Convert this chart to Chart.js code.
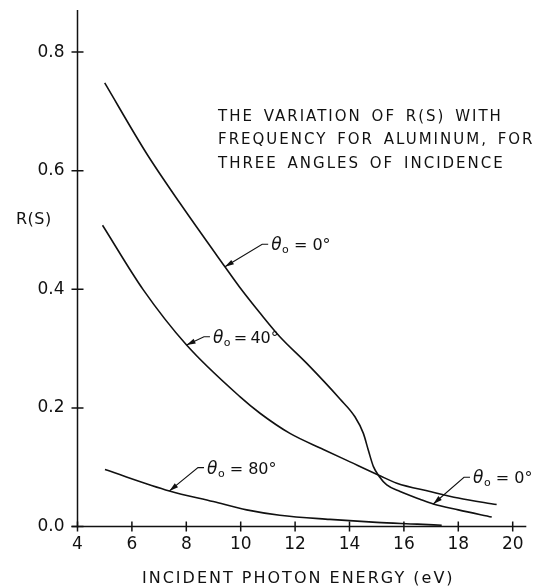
<!DOCTYPE html>
<html><head><meta charset="utf-8">
<script src="https://cdn.jsdelivr.net/npm/chart.js@4"></script>
<style>html,body{margin:0;padding:0;background:#fff}canvas{display:block}</style>
</head><body>
<canvas id="c" width="539" height="587"></canvas>
<script>
// ---- data ----
const energy0 = [5.0, 6.54, 7.77, 9.42, 9.97, 10.71, 11.44, 12.43, 13.65, 14.2, 14.51, 14.69, 14.88, 15.1, 15.37, 15.86, 16.59, 17.08, 18.0, 19.23];
const refl0   = [0.748, 0.629, 0.545, 0.438, 0.403, 0.360, 0.320, 0.275, 0.215, 0.185, 0.157, 0.129, 0.101, 0.084, 0.070, 0.059, 0.046, 0.038, 0.028, 0.016];
const energy40 = [4.92, 6.42, 8.01, 9.97, 10.71, 11.81, 13.04, 14.02, 15.1, 15.74, 16.96, 18.0, 19.41];
const refl40   = [0.508, 0.399, 0.306, 0.219, 0.191, 0.157, 0.130, 0.109, 0.086, 0.073, 0.059, 0.048, 0.037];
const energy80 = [5.01, 7.38, 8.99, 10.22, 11.44, 13.28, 15.0, 16.5, 17.39];
const refl80   = [0.096, 0.060, 0.042, 0.028, 0.019, 0.012, 0.007, 0.004, 0.002];
const xTicks = [4, 6, 8, 10, 12, 14, 16, 18, 20];
const xTickLabels = ['4', '6', '8', '10', '12', '14', '16', '18', '20'];
const yTicks = [0, 0.2, 0.4, 0.6, 0.8];
const yTickLabels = ['0.0', '0.2', '0.4', '0.6', '0.8'];
const titleLines = ['THE VARIATION OF R(S) WITH', 'FREQUENCY FOR ALUMINUM, FOR', 'THREE ANGLES OF INCIDENCE'];
const xTitle = 'INCIDENT PHOTON ENERGY (eV)';
const yTitle = 'R(S)';
const curveLabels = [
  { rest: ' = 0°', tip: [9.42, 0.438], anchor: [11.01, 0.476] },
  { rest: '\u2009=\u200940°', tip: [8.01, 0.306], anchor: [8.87, 0.320] },
  { rest: ' = 80°', tip: [7.38, 0.060], anchor: [8.65, 0.0992] },
  { rest: ' = 0°', tip: [17.08, 0.038], anchor: [18.43, 0.083] }
];

const INK = '#111';
const FONT = 'DejaVu Sans';

function pts(xs, ys) { return xs.map((x, i) => ({ x: x, y: ys[i] })); }
function ds(xs, ys) {
  return { data: pts(xs, ys), borderColor: INK, borderWidth: 1.6, pointRadius: 0,
           fill: false, cubicInterpolationMode: 'monotone' };
}
function zeroPad(s) { s.paddingTop = 0; s.paddingBottom = 0; s.paddingLeft = 0; s.paddingRight = 0; }

const decor = {
  id: 'decor',
  afterDatasetsDraw(chart) {
    const ctx = chart.ctx, xs = chart.scales.x, ys = chart.scales.y;
    const a = chart.chartArea;
    ctx.save();
    ctx.strokeStyle = INK; ctx.fillStyle = INK; ctx.lineWidth = 1.5;
    // axes
    ctx.beginPath();
    ctx.moveTo(a.left, a.bottom + 1); ctx.lineTo(a.left, a.top);
    ctx.moveTo(a.left - 6, a.bottom); ctx.lineTo(a.right, a.bottom);
    ctx.stroke();
    // tick marks crossing the axes
    ctx.beginPath();
    xTicks.forEach(v => { const p = xs.getPixelForValue(v); ctx.moveTo(p, a.bottom - 5); ctx.lineTo(p, a.bottom + 5); });
    yTicks.forEach(v => { const p = ys.getPixelForValue(v); ctx.moveTo(a.left - 6, p); ctx.lineTo(a.left + 6, p); });
    ctx.stroke();
    // title block
    ctx.textBaseline = 'alphabetic'; ctx.textAlign = 'left';
    ctx.font = '15px "' + FONT + '"';
    ctx.letterSpacing = '2px';
    ctx.wordSpacing = '3px';
    titleLines.forEach((t, i) => ctx.fillText(t, 218, 120.5 + i * 23.8));
    ctx.wordSpacing = '0px';
    // axis titles
    ctx.font = '16px "' + FONT + '"';
    ctx.letterSpacing = '2px';
    ctx.fillText(xTitle, 142, 583);
    ctx.letterSpacing = '0.5px';
    ctx.fillText(yTitle, 16, 224);
    ctx.letterSpacing = '0px';
    // curve labels with leaders
    curveLabels.forEach(l => {
      const tx = xs.getPixelForValue(l.tip[0]), ty = ys.getPixelForValue(l.tip[1]);
      const ax = xs.getPixelForValue(l.anchor[0]), ay = ys.getPixelForValue(l.anchor[1]);
      const ex = ax - 6, ey = ay;
      ctx.lineWidth = 1.1;
      ctx.beginPath(); ctx.moveTo(ax, ay); ctx.lineTo(ex, ey); ctx.lineTo(tx, ty); ctx.stroke();
      // arrow head
      const ang = Math.atan2(ty - ey, tx - ex), L = 9, W = 2.6;
      ctx.beginPath();
      ctx.moveTo(tx, ty);
      ctx.lineTo(tx - L * Math.cos(ang) + W * Math.sin(ang), ty - L * Math.sin(ang) - W * Math.cos(ang));
      ctx.lineTo(tx - L * Math.cos(ang) - W * Math.sin(ang), ty - L * Math.sin(ang) + W * Math.cos(ang));
      ctx.closePath(); ctx.fill();
      // text
      let x = ax + 3; const base = ay + 6;
      ctx.font = 'italic 17px "' + FONT + '"';
      ctx.fillText('θ', x, base); x += ctx.measureText('θ').width + 0.5;
      ctx.font = '11px "' + FONT + '"';
      ctx.fillText('o', x, base + 3); x += ctx.measureText('o').width;
      ctx.font = '16px "' + FONT + '"';
      ctx.fillText(l.rest, x, base);
    });
    ctx.restore();
  }
};

new Chart(document.getElementById('c'), {
  type: 'line',
  data: { datasets: [ds(energy0, refl0), ds(energy40, refl40), ds(energy80, refl80)] },
  options: {
    responsive: false, animation: false, events: [],
    layout: { padding: { left: 0, right: 12.7, top: 10, bottom: 0 } },
    plugins: { legend: { display: false }, tooltip: { enabled: false } },
    scales: {
      x: {
        type: 'linear', min: 4, max: 20.5,
        afterBuildTicks: s => { s.ticks = xTicks.map(v => ({ value: v })); },
        afterFit: s => { s.height = 60.5; zeroPad(s); },
        grid: { display: false, drawTicks: false },
        border: { display: false },
        ticks: { callback: (v, i) => xTickLabels[i], color: INK, padding: 8, maxRotation: 0, autoSkip: false,
                 includeBounds: false, font: { family: FONT, size: 17 } }
      },
      y: {
        type: 'linear', min: 0, max: 0.871,
        afterBuildTicks: s => { s.ticks = yTicks.map(v => ({ value: v })); },
        afterFit: s => { s.width = 77.5; zeroPad(s); },
        grid: { display: false, drawTicks: false },
        border: { display: false },
        ticks: { callback: (v, i) => yTickLabels[i], color: INK, padding: 13, autoSkip: false,
                 includeBounds: false, font: { family: FONT, size: 17 } }
      }
    }
  },
  plugins: [decor]
});
</script>
</body></html>
